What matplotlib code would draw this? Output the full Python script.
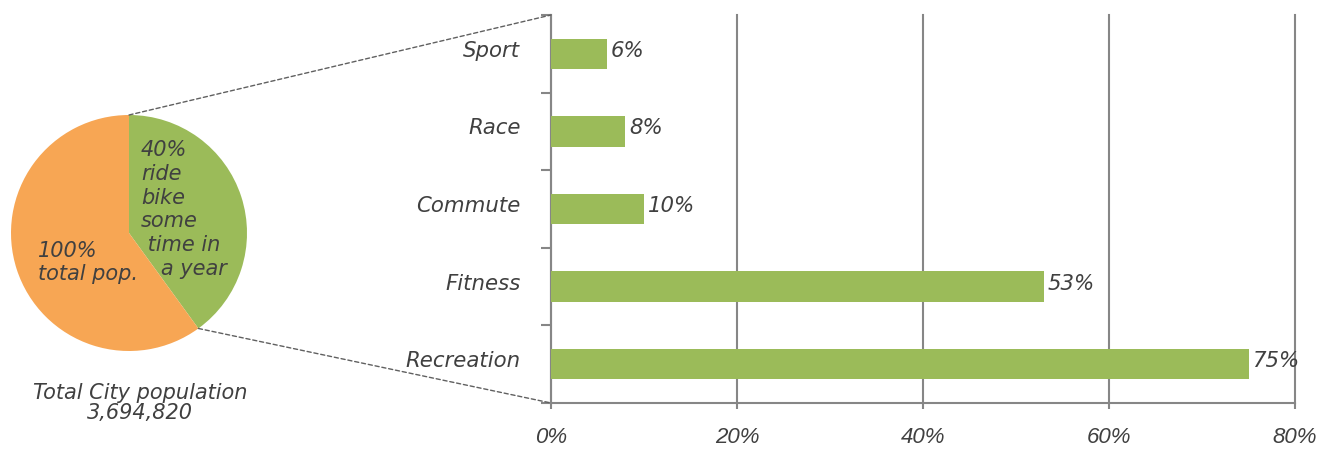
import matplotlib.pyplot as plt
import matplotlib.transforms as mtransforms
from matplotlib.patches import ConnectionPatch

# data
categories = ["Sport", "Race", "Commute", "Fitness", "Recreation"]
shares = [6, 8, 10, 53, 75]
pie_values = [40, 60]
pie_labels = ["40%\nride\nbike\nsome\n time in\n   a year", "100%\ntotal pop."]
x_ticks = [0, 20, 40, 60, 80]
total_pop = "3,694,820"

green = "#9BBB59"
orange = "#F7A654"
txt = "#404040"
axis_gray = "#868686"

plt.rcParams["font.family"] = ["DejaVu Sans"]
plt.rcParams["font.style"] = "italic"

W, H = 1341, 451
fig = plt.figure(figsize=(W / 100, H / 100), dpi=100)

# pie on the left
ax_pie = fig.add_axes([11 / W, 1 - 351 / H, 236 / W, 236 / H])
ax_pie.pie(pie_values, colors=[green, orange], startangle=90, counterclock=False,
           radius=1, wedgeprops=dict(linewidth=0))
ax_pie.set_xlim(-1, 1)
ax_pie.set_ylim(-1, 1)
ax_pie.set_aspect("equal")
ax_pie.axis("off")
ax_pie.text(0.1, 0.2, pie_labels[0], ha="left", va="center", fontsize=15,
            color=txt, linespacing=1.23)
ax_pie.text(-0.77, -0.25, pie_labels[1], ha="left", va="center", fontsize=15,
            color=txt, linespacing=1.2)

fig.text(140 / W, 1 - 403 / H, "Total City population\n" + total_pop, ha="center",
         va="center", fontsize=15, color=txt, linespacing=1.0)

# bars on the right
ax = fig.add_axes([551 / W, 1 - 403 / H, (1295 - 551) / W, (403 - 15) / H])
pos = list(range(len(categories)))
ax.barh(pos, shares, height=0.39, color=green, zorder=3)
lift = mtransforms.ScaledTranslation(0, 3 / 100, fig.dpi_scale_trans)
for p, v in zip(pos, shares):
    ax.text(v + 0.4, p, f"{v}%", va="center", ha="left", fontsize=15.3, color=txt,
            zorder=4, transform=ax.transData + lift)

ax.set_xlim(0, 80)
ax.set_ylim(len(categories) - 0.5, -0.5)
ax.set_xticks(x_ticks)
ax.set_xticklabels([f"{t}%" for t in x_ticks], family=["Liberation Sans", "DejaVu Sans"],
                   fontsize=16, color=txt)
ax.set_yticks(pos)
ax.set_yticklabels(categories, fontsize=15.3, color=txt)
ax.set_yticks([p - 0.5 for p in pos] + [len(pos) - 0.5], minor=True)
ax.tick_params(axis="y", which="major", length=0, pad=22)
ax.tick_params(axis="y", which="minor", length=7, width=1.5, color=axis_gray, direction="out")
ax.tick_params(axis="x", length=4.5, width=1.5, color=axis_gray, pad=13)
ax.grid(axis="x", color=axis_gray, linewidth=1.5, zorder=0)
for gl in ax.get_xgridlines():
    gl.set_clip_on(False)
for s in ["top", "right"]:
    ax.spines[s].set_visible(False)
for s in ["left", "bottom"]:
    ax.spines[s].set_color(axis_gray)
    ax.spines[s].set_linewidth(1.5)

# move category labels up a little, like the original
ylift = mtransforms.ScaledTranslation(0, 5 / 100, fig.dpi_scale_trans)
for lab in ax.get_yticklabels():
    lab.set_transform(lab.get_transform() + ylift)

# dashed connectors from pie to bar chart
top_con = ConnectionPatch(xyA=(0, 1), coordsA=ax_pie.transData,
                          xyB=(0, -0.5), coordsB=ax.transData,
                          linestyle=(0, (3, 2)), color="#606060", linewidth=1)
fig.add_artist(top_con)
bot_con = ConnectionPatch(xyA=(0.588, -0.809), coordsA=ax_pie.transData,
                          xyB=(0, len(categories) - 0.5), coordsB=ax.transData,
                          linestyle=(0, (3, 2)), color="#606060", linewidth=1)
fig.add_artist(bot_con)

fig.savefig("out.png", dpi=100)
